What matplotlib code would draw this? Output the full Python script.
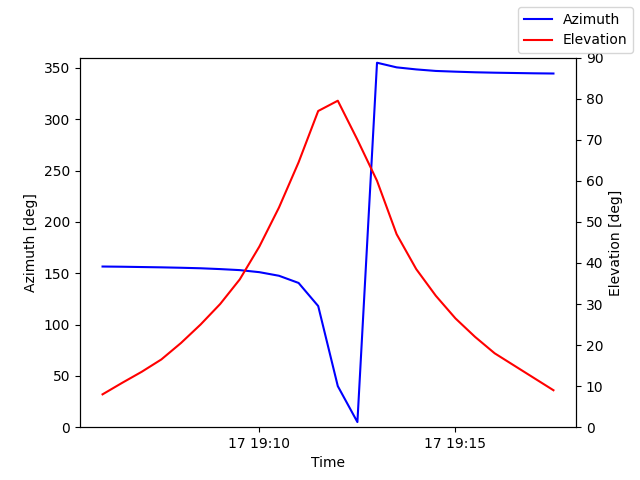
import matplotlib
matplotlib.use("Agg")
import matplotlib.pyplot as plt
import matplotlib.dates as mdates
import pandas as pd

times = pd.date_range("2024-01-17 19:06:00", "2024-01-17 19:17:30", freq="30s")
azimuth = [156.5,156.3,156,155.7,155.3,154.8,154,153,151,147.5,140.5,118,40,5,
           355,350.5,348.5,347,346.3,345.7,345.3,345,344.7,344.5]
elevation = [8,10.8,13.5,16.5,20.5,25,30,36,44,53.5,64.5,77,79.5,70,60,47,38.5,32,
             26.5,22,18,15,12,9]

fig, ax = plt.subplots(figsize=(6.4, 4.8), dpi=100)
ax.plot(times, azimuth, color="blue", label="Azimuth")
ax.set_ylim(0, 360)
ax.set_ylabel("Azimuth [deg]")
ax.set_xlabel("Time")
ax2 = ax.twinx()
ax2.plot(times, elevation, color="red", label="Elevation")
ax2.set_ylim(0, 90)
ax2.set_ylabel("Elevation [deg]")
ax.xaxis.set_major_locator(mdates.MinuteLocator(byminute=[10, 15]))
ax.xaxis.set_major_formatter(mdates.DateFormatter("%d %H:%M"))
fig.legend(loc="upper right")
fig.savefig("out.png")
